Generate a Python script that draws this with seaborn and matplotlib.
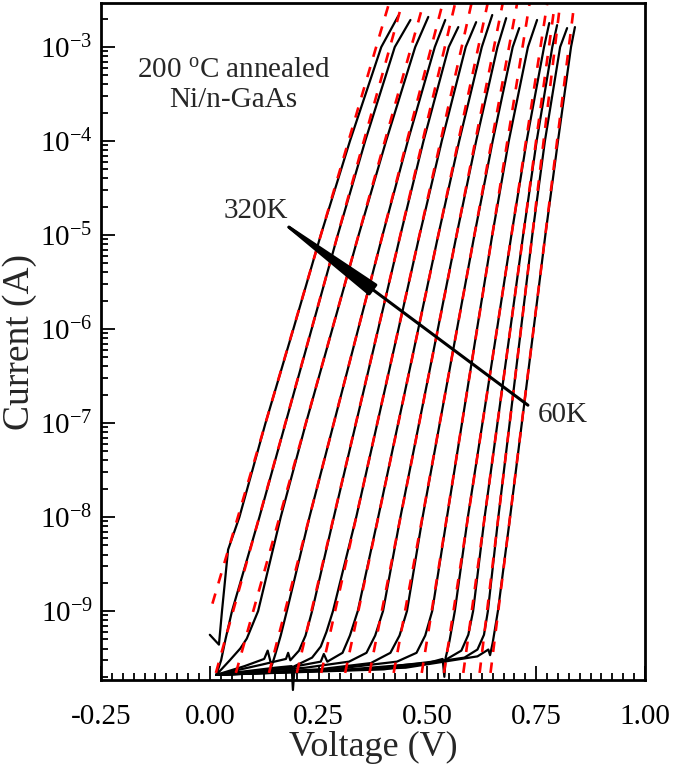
import numpy as np
import pandas as pd
import matplotlib
matplotlib.use("Agg")
import matplotlib.pyplot as plt
import matplotlib.ticker as mticker
import seaborn as sns

# ---------------------------------------------------------------
# data (V in volts, I in amps)
# ---------------------------------------------------------------
TEMPS = [320, 300, 280, 260, 240, 220, 200, 180, 160, 140, 120, 100, 80, 60]

# measured I-V curves (black), one list per temperature
CURVE_V = [
    [0.000, 0.021, 0.028, 0.042, 0.068, 0.128, 0.192, 0.255, 0.322, 0.394, 0.433],
    [0.015, 0.026, 0.036, 0.051, 0.114, 0.174, 0.234, 0.294, 0.357, 0.425, 0.461],
    [0.015, 0.046, 0.070, 0.085, 0.111, 0.163, 0.221, 0.2815, 0.342, 0.405, 0.472, 0.502],
    [0.015, 0.080, 0.125, 0.133, 0.142, 0.150, 0.163, 0.177, 0.229, 0.285, 0.341, 0.397, 0.455, 0.517, 0.541],
    [0.015, 0.120, 0.175, 0.180, 0.185, 0.205, 0.220, 0.235, 0.285, 0.336, 0.387, 0.438, 0.491, 0.549, 0.571],
    [0.015, 0.150, 0.188, 0.191, 0.195, 0.235, 0.255, 0.268, 0.283, 0.3365, 0.385, 0.4335, 0.482, 0.533, 0.588, 0.612],
    [0.015, 0.180, 0.255, 0.262, 0.270, 0.305, 0.322, 0.340, 0.387, 0.433, 0.479, 0.525, 0.573, 0.625, 0.649],
    [0.015, 0.220, 0.320, 0.360, 0.380, 0.398, 0.438, 0.481, 0.524, 0.567, 0.612, 0.661, 0.681],
    [0.015, 0.250, 0.370, 0.415, 0.436, 0.453, 0.489, 0.5285, 0.568, 0.608, 0.650, 0.696, 0.711],
    [0.015, 0.280, 0.430, 0.475, 0.495, 0.511, 0.545, 0.5795, 0.614, 0.649, 0.687, 0.731, 0.752],
    [0.015, 0.320, 0.500, 0.535, 0.539, 0.542, 0.550, 0.563, 0.593, 0.6265, 0.660, 0.693, 0.728, 0.768, 0.780],
    [0.015, 0.360, 0.540, 0.578, 0.594, 0.605, 0.6315, 0.661, 0.6905, 0.720, 0.751, 0.787, 0.798],
    [0.015, 0.400, 0.585, 0.615, 0.630, 0.639, 0.663, 0.689, 0.715, 0.741, 0.770, 0.805, 0.821],
    [0.015, 0.450, 0.615, 0.640, 0.644, 0.650, 0.662, 0.690, 0.717, 0.744, 0.771, 0.800, 0.830, 0.839],
]
CURVE_I = [
    [5.6e-10, 4.4e-10, 1e-9, 4.5e-9, 1e-8, 1e-7, 1e-6, 1e-5, 1e-4, 1e-3, 2.14e-3],
    [2.1e-10, 3.0e-10, 5.0e-10, 1e-9, 1e-8, 1e-7, 1e-6, 1e-5, 1e-4, 1e-3, 1.94e-3],
    [2.1e-10, 3.0e-10, 4.0e-10, 5.1e-10, 1e-9, 1e-8, 1e-7, 1e-6, 1e-5, 1e-4, 1e-3, 2.09e-3],
    [2.1e-10, 2.6e-10, 3.1e-10, 3.8e-10, 2.6e-10, 3.4e-10, 5.5e-10, 1e-9, 1e-8, 1e-7, 1e-6, 1e-5, 1e-4, 1e-3, 1.94e-3],
    [2.1e-10, 2.7e-10, 3.1e-10, 3.6e-10, 3.0e-10, 3.8e-10, 5.5e-10, 1e-9, 1e-8, 1e-7, 1e-6, 1e-5, 1e-4, 1e-3, 1.63e-3],
    [2.1e-10, 2.5e-10, 2.6e-10, 1.45e-10, 2.6e-10, 3.2e-10, 4.2e-10, 6.0e-10, 1e-9, 1e-8, 1e-7, 1e-6, 1e-5, 1e-4, 1e-3, 1.84e-3],
    [2.1e-10, 2.5e-10, 2.9e-10, 3.5e-10, 2.9e-10, 3.6e-10, 5.5e-10, 1e-9, 1e-8, 1e-7, 1e-6, 1e-5, 1e-4, 1e-3, 2.19e-3],
    [2.1e-10, 2.5e-10, 2.9e-10, 3.6e-10, 5.5e-10, 1e-9, 1e-8, 1e-7, 1e-6, 1e-5, 1e-4, 1e-3, 2.03e-3],
    [2.1e-10, 2.4e-10, 2.8e-10, 3.6e-10, 5.5e-10, 1e-9, 1e-8, 1e-7, 1e-6, 1e-5, 1e-4, 1e-3, 1.59e-3],
    [2.1e-10, 2.4e-10, 2.9e-10, 3.6e-10, 5.5e-10, 1e-9, 1e-8, 1e-7, 1e-6, 1e-5, 1e-4, 1e-3, 1.94e-3],
    [2.1e-10, 2.4e-10, 2.8e-10, 3.1e-10, 2.0e-10, 3.2e-10, 4.6e-10, 1e-9, 1e-8, 1e-7, 1e-6, 1e-5, 1e-4, 1e-3, 1.80e-3],
    [2.1e-10, 2.4e-10, 3.0e-10, 3.8e-10, 5.6e-10, 1e-9, 1e-8, 1e-7, 1e-6, 1e-5, 1e-4, 1e-3, 1.71e-3],
    [2.1e-10, 2.4e-10, 3.2e-10, 3.9e-10, 5.6e-10, 1e-9, 1e-8, 1e-7, 1e-6, 1e-5, 1e-4, 1e-3, 1.59e-3],
    [2.1e-10, 2.5e-10, 3.3e-10, 3.9e-10, 3.4e-10, 4.6e-10, 1e-9, 1e-8, 1e-7, 1e-6, 1e-5, 1e-4, 1e-3, 1.63e-3],
]

# straight-line fits (red dashed), start and end points
FIT_V_START = [0.006, 0.014, 0.060, 0.136, 0.200, 0.256, 0.311, 0.367, 0.4225, 0.487, 0.538, 0.5825, 0.620, 0.645]
FIT_I_START = [1.2e-9, 2.2e-10, 2.2e-10, 2.2e-10, 2.2e-10, 2.2e-10, 2.2e-10,
               2.2e-10, 2.2e-10, 2.2e-10, 2.2e-10, 2.2e-10, 2.2e-10, 2.2e-10]
FIT_V_END = [0.414, 0.444, 0.493, 0.537, 0.5655, 0.603, 0.640, 0.6745, 0.7075, 0.736, 0.7765, 0.794, 0.806, 0.8385]
FIT_I_END = [3.16e-3] * 14

# axis ticks
X_TICKS = [-0.25, 0.00, 0.25, 0.50, 0.75, 1.00]
Y_TICKS = [1e-9, 1e-8, 1e-7, 1e-6, 1e-5, 1e-4, 1e-3]


# ---------------------------------------------------------------
# long-form tables for seaborn
# ---------------------------------------------------------------
rows = []
for t, vs, cs in zip(TEMPS, CURVE_V, CURVE_I):
    for v, c in zip(vs, cs):
        rows.append({"T": t, "V": v, "I": c})
meas = pd.DataFrame(rows)

rows = []
for t, v0, i0, v1, i1 in zip(TEMPS, FIT_V_START, FIT_I_START, FIT_V_END, FIT_I_END):
    rows.append({"T": t, "V": v0, "I": i0})
    rows.append({"T": t, "V": v1, "I": i1})
fits = pd.DataFrame(rows)


# ---------------------------------------------------------------
# style
# ---------------------------------------------------------------
sns.set_style("ticks")
plt.rcParams["font.family"] = ["Liberation Serif", "DejaVu Serif"]
plt.rcParams["mathtext.fontset"] = "custom"
plt.rcParams["mathtext.rm"] = "Liberation Serif"
plt.rcParams["mathtext.it"] = "Liberation Serif:italic"
plt.rcParams["axes.unicode_minus"] = False

fig = plt.figure(figsize=(6.73, 7.75), dpi=100)
ax = fig.add_axes([101 / 673, 1 - 680 / 775, 544 / 673, 677 / 775])
ax.set_yscale("log")

sns.lineplot(data=meas, x="V", y="I", units="T", estimator=None, sort=False,
             color="black", lw=1.6, ax=ax, legend=False, clip_on=False)
sns.lineplot(data=fits, x="V", y="I", units="T", estimator=None, sort=False,
             color="red", lw=1.9, linestyle=(0, (4, 4)), ax=ax, legend=False)

ax.set_xlim(-0.25, 1.00)
ax.set_ylim(1.85e-10, 2.94e-3)

ax.xaxis.set_major_locator(mticker.FixedLocator(X_TICKS))
ax.xaxis.set_minor_locator(mticker.MultipleLocator(0.025))
ax.xaxis.set_major_formatter(mticker.FormatStrFormatter("%.2f"))
ax.yaxis.set_major_locator(mticker.FixedLocator(Y_TICKS))
ax.yaxis.set_major_formatter(mticker.LogFormatterSciNotation())
ax.yaxis.set_minor_locator(mticker.LogLocator(base=10, subs=np.arange(2, 10), numticks=20))
ax.yaxis.set_minor_formatter(mticker.NullFormatter())

ax.tick_params(which="both", direction="in", top=False, right=False, width=1.3,
               labelsize=21, colors="black")
ax.tick_params(which="major", length=10)
ax.tick_params(which="minor", length=5)
ax.tick_params(axis="x", which="major", pad=17)
ax.tick_params(axis="y", which="major", pad=6)

for sp in ax.spines.values():
    sp.set_linewidth(2)
    sp.set_color("black")

ax.set_xlabel("Voltage (V)", fontsize=26, labelpad=1)
ax.set_ylabel("Current (A)", fontsize=27, labelpad=2)

# annotations
ax.text(0.244, 0.901, "200 $^{\\mathrm{o}}$C annealed", transform=ax.transAxes,
        ha="center", va="center", fontsize=21)
ax.text(0.244, 0.857, "Ni/n-GaAs", transform=ax.transAxes,
        ha="center", va="center", fontsize=21)

ax.annotate("", xy=(0.129, 1.845e-5), xytext=(0.731, 1.55e-7),
            arrowprops=dict(arrowstyle="-|>,head_length=7.5,head_width=0.4",
                            lw=2.2, color="black", shrinkA=0, shrinkB=0,
                            mutation_scale=10))
ax.text(0.106, 1.80e-5, "320K", ha="center", va="center", fontsize=21)
ax.text(0.811, 1.22e-7, "60K", ha="center", va="center", fontsize=21)

fig.savefig("out.png", dpi=100)
